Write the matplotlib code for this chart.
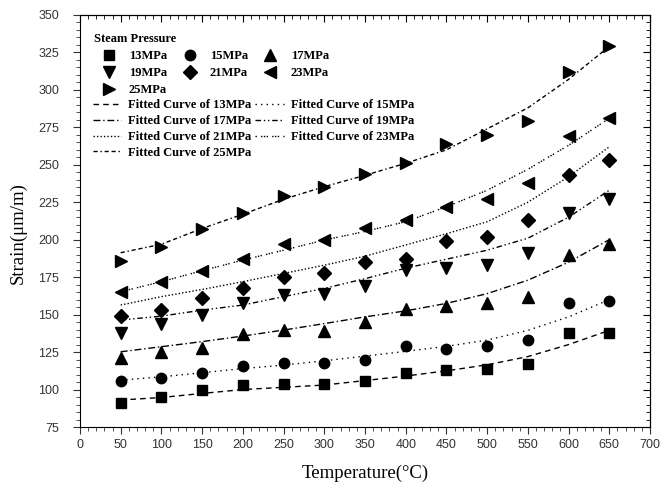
import numpy as np
import matplotlib
matplotlib.use("Agg")
import matplotlib.pyplot as plt
from matplotlib.ticker import MultipleLocator, AutoMinorLocator

temps = [50, 100, 150, 200, 250, 300, 350, 400, 450, 500, 550, 600, 650]
pressures = ["13MPa", "15MPa", "17MPa", "19MPa", "21MPa", "23MPa", "25MPa"]

# measured strain (um/m)
strain_13 = [91, 95, 100, 103, 104, 104, 106, 111, 113, 114, 117, 138, 138]
strain_15 = [106, 108, 111, 116, 118, 118, 120, 129, 127, 129, 133, 158, 159]
strain_17 = [121, 125, 128, 137, 140, 139, 145, 154, 156, 158, 162, 190, 197]
strain_19 = [138, 144, 150, 158, 163, 164, 169, 180, 181, 183, 191, 218, 227]
strain_21 = [149, 153, 161, 168, 175, 178, 185, 187, 199, 202, 213, 243, 253]
strain_23 = [165, 172, 179, 187, 197, 200, 208, 213, 222, 227, 238, 269, 281]
strain_25 = [186, 195, 207, 218, 229, 235, 244, 251, 264, 270, 279, 312, 329]

# fitted curves
fit_13 = [93, 94.7, 97.4, 100, 101.5, 103, 106, 109, 112.5, 116.5, 122, 130, 139.5]
fit_15 = [106.3, 108.5, 111.2, 114, 116.3, 119.2, 122.3, 125.5, 128.8, 133, 139.5, 148.5, 160]
fit_17 = [125.2, 128.6, 132, 135.7, 139.7, 144, 148.5, 152.5, 157.5, 164, 173, 185, 200]
fit_19 = [146.4, 149, 153, 156.4, 162, 167.5, 174, 181, 187, 193, 201, 215, 233]
fit_21 = [156.4, 162, 166.8, 172, 177.5, 183, 189, 196.5, 204, 212, 225, 242, 262]
fit_23 = [165.3, 172, 179.3, 186.4, 193, 199.8, 205.5, 212, 222, 233, 247, 263, 281]
fit_25 = [191.3, 197, 207.5, 217, 227, 235.4, 243, 251, 260, 274, 288, 307, 329]

strains = [strain_13, strain_15, strain_17, strain_19, strain_21, strain_23, strain_25]
fits = [fit_13, fit_15, fit_17, fit_19, fit_21, fit_23, fit_25]
markers = ["s", "o", "^", "v", "D", "<", ">"]
msizes = [7, 7.5, 8.5, 8.5, 7, 8.5, 8.5]
dashes = [(4, 3), (1, 3), (5, 2, 1, 2), (4, 2, 1, 2, 1, 2), (1, 1.5), (1, 3, 1, 1, 1, 1), (3, 2, 1, 2, 3, 2)]

plt.rcParams["font.family"] = ["Liberation Sans", "DejaVu Sans"]
fig = plt.figure(figsize=(6.6, 4.88), dpi=100)
ax = fig.add_axes([0.1212, 0.125, 0.8636, 0.8443])

pts = []
lns = []
for p, s, f, m, ms, d in zip(pressures, strains, fits, markers, msizes, dashes):
    h, = ax.plot(temps, s, linestyle="none", marker=m, color="black", markersize=ms)
    l, = ax.plot(temps, f, color="black", linewidth=1.0, dashes=d)
    pts.append(h)
    lns.append(l)

ax.set_xlim(0, 700)
ax.set_ylim(75, 350)
ax.xaxis.set_major_locator(MultipleLocator(50))
ax.yaxis.set_major_locator(MultipleLocator(25))
ax.xaxis.set_minor_locator(AutoMinorLocator(5))
ax.yaxis.set_minor_locator(AutoMinorLocator(5))
ax.tick_params(which="both", direction="out", top=False, right=False, labelsize=9, colors="#333333")
ax.tick_params(which="major", length=5)
ax.tick_params(which="minor", length=3)
ax.tick_params(axis="y", which="major", pad=10)
# mirrored ticks pointing inward on top and right
sec_x = ax.secondary_xaxis("top")
sec_x.xaxis.set_major_locator(MultipleLocator(50))
sec_x.xaxis.set_minor_locator(AutoMinorLocator(5))
sec_x.tick_params(which="both", direction="in", labeltop=False)
sec_x.tick_params(which="major", length=5)
sec_x.tick_params(which="minor", length=3)
sec_y = ax.secondary_yaxis("right")
sec_y.yaxis.set_major_locator(MultipleLocator(25))
sec_y.yaxis.set_minor_locator(AutoMinorLocator(5))
sec_y.tick_params(which="both", direction="in", labelright=False)
sec_y.tick_params(which="major", length=5)
sec_y.tick_params(which="minor", length=3)

serif = ["Liberation Serif", "DejaVu Serif"]
ax.set_xlabel("Temperature(\u00b0C)", fontsize=13.5, family=serif, labelpad=10)
ax.set_ylabel("Strain(\u03bcm/m)", fontsize=13.5, family=serif)
ax.yaxis.set_label_coords(-0.094, 0.47)

leg_font = {"family": serif, "weight": "bold", "size": 9}
order1 = [0, 3, 6, 1, 4, 2, 5]
leg1 = ax.legend([pts[i] for i in order1], [pressures[i] for i in order1],
                 ncol=3, loc="upper left", bbox_to_anchor=(0.024, 0.957),
                 frameon=False, prop=leg_font, title="Steam Pressure",
                 title_fontproperties=leg_font, alignment="left",
                 handlelength=2.4, columnspacing=0.6, labelspacing=0.42,
                 handletextpad=0.42, borderaxespad=0, borderpad=0)
ax.add_artist(leg1)
order2 = [0, 2, 4, 6, 1, 3, 5]
ax.legend([lns[i] for i in order2], ["Fitted Curve of " + pressures[i] for i in order2],
          ncol=2, loc="upper left", bbox_to_anchor=(0.022, 0.795),
          frameon=False, prop=leg_font, handlelength=2.3, columnspacing=0.3,
          labelspacing=0.3, handletextpad=0.55, borderaxespad=0, borderpad=0)

fig.savefig("out.png", dpi=100)
